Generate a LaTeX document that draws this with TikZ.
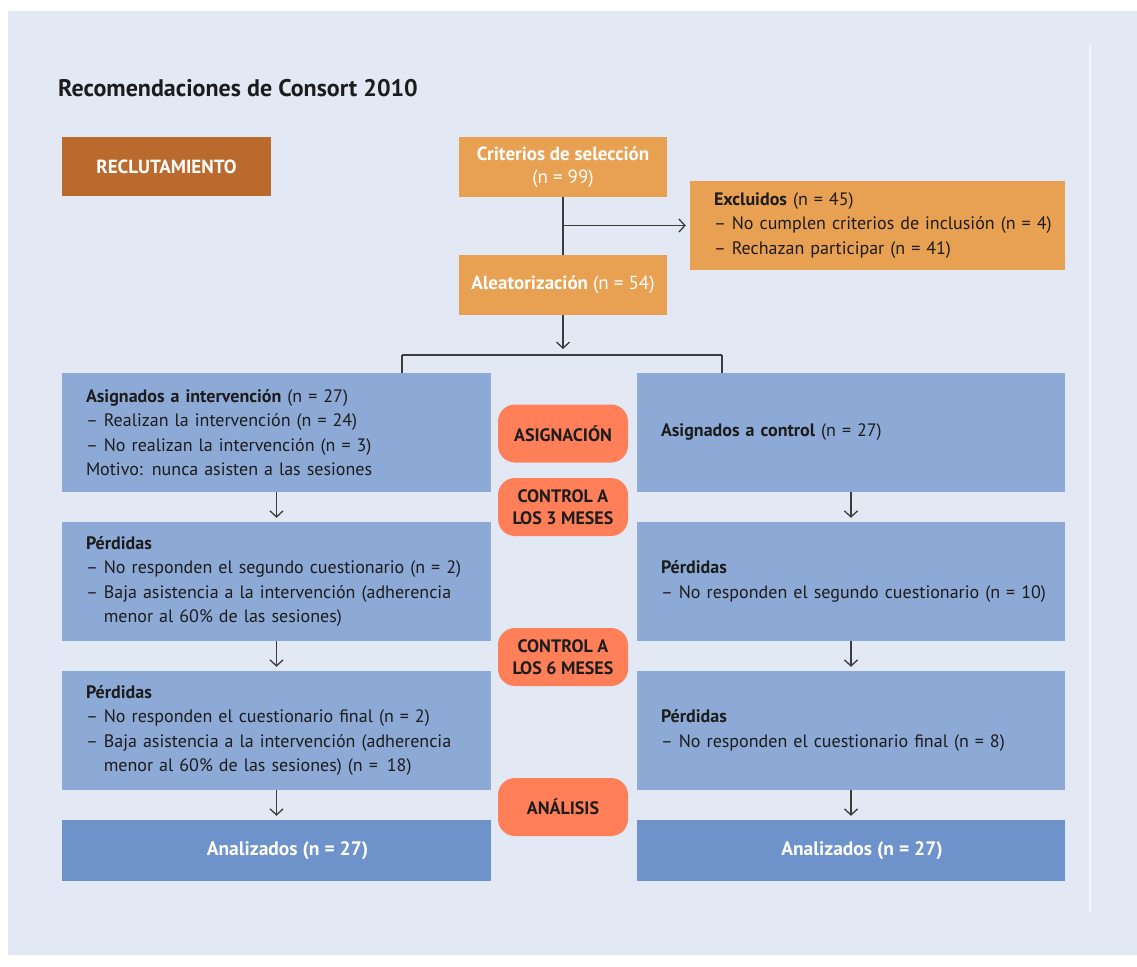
\documentclass[tikz,border=0pt]{standalone}
\usepackage{fontspec}
\setmainfont{PT Sans}
\usepackage{tikz}
\usetikzlibrary{arrows.meta}

\definecolor{pagebg}{HTML}{E2E8F4}
\definecolor{boxblue}{HTML}{8DAAD7}
\definecolor{darkblue}{HTML}{6E93CA}
\definecolor{boxorange}{HTML}{E8A052}
\definecolor{boxbrown}{HTML}{BB6A2E}
\definecolor{tagred}{HTML}{FF7F58}
\definecolor{linegray}{HTML}{3C3C3C}
\definecolor{inkdark}{HTML}{1C1C1C}

\tikzset{
    base/.style={rectangle, inner sep=0pt, text=inkdark,
        font=\fontsize{18}{24.3}\selectfont},
    orangebox/.style={base, fill=boxorange, text=white, align=center,
        minimum width=208, minimum height=60},
    bluebox/.style={base, fill=boxblue, inner xsep=24, text width=381,
        align=left, minimum height=119},
    endbox/.style={base, fill=darkblue, text=white, minimum width=429,
        minimum height=61, font=\fontsize{19.5}{24}\selectfont},
    tag/.style={base, fill=tagred, rounded corners=17, align=center,
        minimum width=130, minimum height=58,
        font=\fontsize{18}{22.5}\selectfont\bfseries},
    link/.style={draw=linegray, line width=1.3},
    arr/.style={link, -{Straight Barb[length=6pt,width=13pt]}, shorten >=4pt},
}

\begin{document}
\begin{tikzpicture}[x=1pt, y=-1pt]
    % page
    \useasboundingbox (0, 0) rectangle (1137, 966);
    \fill [white] (0, 0) rectangle (1137, 966);
    \fill [pagebg] (8, 11) rectangle (1137, 955);
    \draw [white!55!pagebg, line width=1.5] (1090, 45) to (1090, 912);
    \node [base, anchor=west, font=\fontsize{24}{27}\selectfont\bfseries] (0) at (58, 88) {Recomendaciones de Consort 2010};
    % recruitment
    \node [orangebox, fill=boxbrown, minimum width=209, minimum height=59, font=\fontsize{19}{22}\selectfont\bfseries] (1) at (166.5, 166.5) {RECLUTAMIENTO};
    \node [orangebox, font=\fontsize{19}{23}\selectfont] (2) at (563, 167) {\textbf{Criterios de selección}\\(n = 99)};
    \node [base, fill=boxorange, inner xsep=24, text width=327, align=left, minimum height=89] (3) at (877.5, 225.5) {\mbox{\textbf{Excluidos} (n = 45)}\\\mbox{– No cumplen criterios de inclusión (n = 4)}\\\mbox{– Rechazan participar (n = 41)}};
    \node [orangebox, font=\fontsize{19}{23}\selectfont] (4) at (563, 285) {\textbf{Aleatorización} (n = 54)};
    \draw [link] (2) to (4);
    \draw [arr] (2.south |- 3.west) to (3.west);
    % split
    \coordinate (30) at (402, 355);
    \coordinate (31) at (722, 355);
    \draw [arr, shorten >=6pt] (4) to (4.south |- 30);
    \draw [link] (30) to (31);
    % intervention group
    \node [bluebox] (5) at (276.5, 432.5) {\textbf{Asignados a intervención} (n = 27)\\– Realizan la intervención (n = 24)\\– No realizan la intervención (n = 3)\\Motivo: nunca asisten a las sesiones};
    \node [bluebox] (7) at (276.5, 581.5) {\textbf{Pérdidas}\\– No responden el segundo cuestionario (n = 2)\\– Baja asistencia a la intervención (adherencia\\\hphantom{– }menor al 60\% de las sesiones)};
    \node [bluebox] (9) at (276.5, 730.5) {\textbf{Pérdidas}\\– No responden el cuestionario final (n = 2)\\– Baja asistencia a la intervención (adherencia\\\hphantom{– }menor al 60\% de las sesiones) (n = \,18)};
    \node [endbox] (11) at (276.5, 850.5) {\hspace*{22pt}\textbf{Analizados (n = 27)}};
    \draw [link] (30) to (30 |- 5.north);
    \draw [arr] (5) to (7);
    \draw [arr] (7) to (9);
    \draw [arr] (9) to (11);
    % control group
    \node [bluebox, text width=380] (6) at (851, 432.5) {\textbf{Asignados a control} (n = 27)};
    \node [bluebox, text width=380] (8) at (851, 581.5) {\textbf{Pérdidas}\\\mbox{– No responden el segundo cuestionario (n = 10)}};
    \node [bluebox, text width=380] (10) at (851, 730.5) {\textbf{Pérdidas}\\– No responden el cuestionario final (n = 8)};
    \node [endbox, minimum width=428] (12) at (851, 850.5) {\hspace*{22pt}\textbf{Analizados (n = 27)}};
    \draw [link] (31) to (31 |- 6.north);
    \draw [arr] (6) to (8);
    \draw [arr] (8) to (10);
    \draw [arr] (10) to (12);
    % stages
    \node [tag] (20) at (563, 433.5) {ASIGNACIÓN};
    \node [tag] (21) at (563, 507) {CONTROL A\\LOS 3 MESES};
    \node [tag] (22) at (563, 657) {CONTROL A\\LOS 6 MESES};
    \node [tag] (23) at (563, 807) {ANÁLISIS};
\end{tikzpicture}
\end{document}
